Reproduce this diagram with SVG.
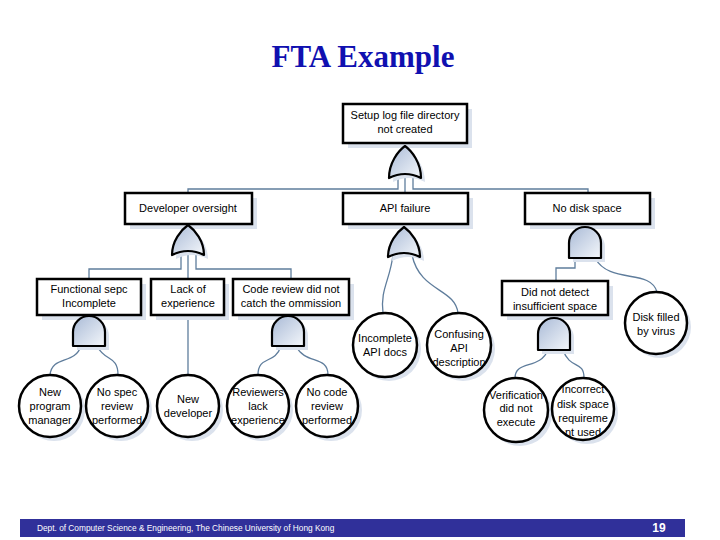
<svg xmlns="http://www.w3.org/2000/svg" width="720" height="540" viewBox="0 0 720 540">
<style>
.bx{fill:#fff;stroke:#000;stroke-width:2.5}
.sh{fill:#dbe2ed;stroke:none}
.ci{fill:#fff;stroke:#000;stroke-width:2.5}
.gt{fill:url(#gg);stroke:#000;stroke-width:2.2;stroke-linejoin:round}
.t{font-family:"Liberation Sans",Arial,sans-serif;font-size:11px;fill:#000;text-anchor:middle}
.cn{fill:none;stroke:#5f7d9c;stroke-width:1.3}
</style>
<defs>
<linearGradient id="gg" x1="0" y1="0" x2="1" y2="1">
<stop offset="0" stop-color="#a9bad6"/>
<stop offset="1" stop-color="#f4f7fb"/>
</linearGradient>
</defs>
<rect width="720" height="540" fill="#fff"/>
<text x="363" y="67" font-family="'Liberation Serif','Times New Roman',serif" font-size="31" font-weight="bold" fill="#1010b0" text-anchor="middle">FTA Example</text>

<g id="connectors">
<path class="cn" d="M398,178 V189 H188 V193"/>
<path class="cn" d="M405,178 V193"/>
<path class="cn" d="M413,178 V189 H588 V193"/>
<path class="cn" d="M181,255 V269 H89 V279"/>
<path class="cn" d="M188,255 V279"/>
<path class="cn" d="M196,255 V269 H291 V279"/>
<path class="cn" d="M188,315 V375"/>
<path class="cn" d="M393,255 C390,280 380,290 383,313"/>
<path class="cn" d="M412,255 C420,292 455,288 458,313"/>
<path class="cn" d="M575,258 V268 H556 V281"/>
<path class="cn" d="M595,258 C610,285 650,268 657,292"/>
<path class="cn" d="M81,346 C75,365 52,355 50,375"/>
<path class="cn" d="M97,346 C105,362 118,355 118,375"/>
<path class="cn" d="M281,346 C275,365 258,355 258,375"/>
<path class="cn" d="M296,346 C305,365 328,355 328,375"/>
<path class="cn" d="M548,350 C540,370 515,360 515,378"/>
<path class="cn" d="M563,350 C570,370 584,360 584,378"/>
</g>

<g id="top">
<rect class="sh" x="348" y="109" width="124" height="39"/>
<rect class="bx" x="343" y="104" width="124" height="39"/>
<text class="t" x="405" y="119">Setup log file directory</text>
<text class="t" x="405" y="133">not created</text>
</g>
<g id="gate-top">
<path class="sh" d="M409,150 C416,155 425,167 425,182 Q409,174 393,182 C393,167 402,155 409,150 Z"/>
<path class="gt" d="M405,146 C412,151 421,163 421,178 Q405,170 389,178 C389,163 398,151 405,146 Z"/>
</g>

<g id="dev">
<rect class="sh" x="130" y="198" width="127" height="31"/>
<rect class="bx" x="125" y="193" width="127" height="31"/>
<text class="t" x="188" y="212">Developer oversight</text>
</g>
<g id="gate-dev">
<path class="sh" d="M192,229 C199,234 208,245 208,259 Q192,251 176,259 C176,245 185,234 192,229 Z"/>
<path class="gt" d="M188,225 C195,230 204,241 204,255 Q188,247 172,255 C172,241 181,230 188,225 Z"/>
</g>

<g id="api">
<rect class="sh" x="348" y="198" width="125" height="31"/>
<rect class="bx" x="343" y="193" width="125" height="31"/>
<text class="t" x="405" y="212">API failure</text>
</g>
<g id="gate-api">
<path class="sh" d="M408,231 C415,236 424,247 424,261 Q408,253 392,261 C392,247 401,236 408,231 Z"/>
<path class="gt" d="M404,227 C411,232 420,243 420,257 Q404,249 388,257 C388,243 397,232 404,227 Z"/>
</g>

<g id="disk">
<rect class="sh" x="530" y="198" width="125" height="31"/>
<rect class="bx" x="525" y="193" width="125" height="31"/>
<text class="t" x="587" y="212">No disk space</text>
</g>
<g id="gate-disk">
<path class="sh" d="M573,262 V247 A16,16 0 0 1 605,247 V262 Z"/>
<path class="gt" d="M569,258 V243 A16,16 0 0 1 601,243 V258 Z"/>
</g>

<g id="func">
<rect class="sh" x="42" y="284" width="104" height="36"/>
<rect class="bx" x="37" y="279" width="104" height="36"/>
<text class="t" x="89" y="293">Functional sepc</text>
<text class="t" x="89" y="307">Incomplete</text>
</g>
<g id="gate-func">
<path class="sh" d="M77,350 V336 A16,16 0 0 1 109,336 V350 Z"/>
<path class="gt" d="M73,346 V332 A16,16 0 0 1 105,332 V346 Z"/>
</g>

<g id="lack">
<rect class="sh" x="156" y="284" width="73" height="36"/>
<rect class="bx" x="151" y="279" width="73" height="36"/>
<text class="t" x="188" y="293">Lack of</text>
<text class="t" x="188" y="307">experience</text>
</g>

<g id="code">
<rect class="sh" x="238" y="284" width="116" height="36"/>
<rect class="bx" x="233" y="279" width="116" height="36"/>
<text class="t" x="291" y="293">Code review did not</text>
<text class="t" x="291" y="307">catch the ommission</text>
</g>
<g id="gate-code">
<path class="sh" d="M276,350 V336 A16,16 0 0 1 308,336 V350 Z"/>
<path class="gt" d="M272,346 V332 A16,16 0 0 1 304,332 V346 Z"/>
</g>

<g id="detect">
<rect class="sh" x="507" y="286" width="106" height="34"/>
<rect class="bx" x="502" y="281" width="106" height="34"/>
<text class="t" x="555" y="296">Did not detect</text>
<text class="t" x="555" y="310">insufficient space</text>
</g>
<g id="gate-detect">
<path class="sh" d="M542,354 V338 A16,16 0 0 1 574,338 V354 Z"/>
<path class="gt" d="M538,350 V334 A16,16 0 0 1 570,334 V350 Z"/>
</g>

<g id="c-npm">
<circle class="sh" cx="54" cy="410" r="31"/>
<circle class="ci" cx="50" cy="406" r="31"/>
<text class="t" x="50" y="396">New</text>
<text class="t" x="50" y="410">program</text>
<text class="t" x="50" y="424">manager</text>
</g>
<g id="c-nospec">
<circle class="sh" cx="121" cy="410" r="31"/>
<circle class="ci" cx="117" cy="406" r="31"/>
<text class="t" x="117" y="396">No spec</text>
<text class="t" x="117" y="410">review</text>
<text class="t" x="117" y="424">performed</text>
</g>
<g id="c-newdev">
<circle class="sh" cx="192" cy="410" r="31"/>
<circle class="ci" cx="188" cy="406" r="31"/>
<text class="t" x="188" y="403">New</text>
<text class="t" x="188" y="417">developer</text>
</g>
<g id="c-rev">
<circle class="sh" cx="262" cy="410" r="31"/>
<circle class="ci" cx="258" cy="406" r="31"/>
<text class="t" x="258" y="396">Reviewers</text>
<text class="t" x="258" y="410">lack</text>
<text class="t" x="258" y="424">experience</text>
</g>
<g id="c-nocode">
<circle class="sh" cx="331" cy="410" r="31"/>
<circle class="ci" cx="327" cy="406" r="31"/>
<text class="t" x="327" y="396">No code</text>
<text class="t" x="327" y="410">review</text>
<text class="t" x="327" y="424">performed</text>
</g>
<g id="c-incapi">
<circle class="sh" cx="389" cy="349" r="32"/>
<circle class="ci" cx="385" cy="345" r="32"/>
<text class="t" x="385" y="342">Incomplete</text>
<text class="t" x="385" y="356">API docs</text>
</g>
<g id="c-confapi">
<circle class="sh" cx="463" cy="349" r="32"/>
<circle class="ci" cx="459" cy="345" r="32"/>
<text class="t" x="459" y="338">Confusing</text>
<text class="t" x="459" y="352">API</text>
<text class="t" x="459" y="366">description</text>
</g>
<g id="c-virus">
<circle class="sh" cx="660" cy="327" r="31"/>
<circle class="ci" cx="656" cy="323" r="31"/>
<text class="t" x="656" y="321">Disk filled</text>
<text class="t" x="656" y="335">by virus</text>
</g>
<g id="c-verif">
<circle class="sh" cx="520" cy="414" r="32"/>
<circle class="ci" cx="516" cy="410" r="32"/>
<text class="t" x="516" y="399">Verification</text>
<text class="t" x="516" y="412">did not</text>
<text class="t" x="516" y="426">execute</text>
</g>
<g id="c-incorrect">
<circle class="sh" cx="587" cy="413" r="31"/>
<circle class="ci" cx="583" cy="409" r="31"/>
<text class="t" x="583" y="393">Incorrect</text>
<text class="t" x="583" y="408">disk space</text>
<text class="t" x="583" y="422">requireme</text>
<text class="t" x="583" y="436">nt used</text>
</g>

<g id="footer">
<rect x="20" y="519" width="665" height="18" fill="#30309a"/>
<text x="37" y="531" font-family="'Liberation Sans',Arial,sans-serif" font-size="8.3" fill="#fff">Dept. of Computer Science &amp; Engineering, The Chinese University of Hong Kong</text>
<text x="659" y="532" font-family="'Liberation Sans',Arial,sans-serif" font-size="12" font-weight="bold" fill="#fff" text-anchor="middle">19</text>
</g>
</svg>
